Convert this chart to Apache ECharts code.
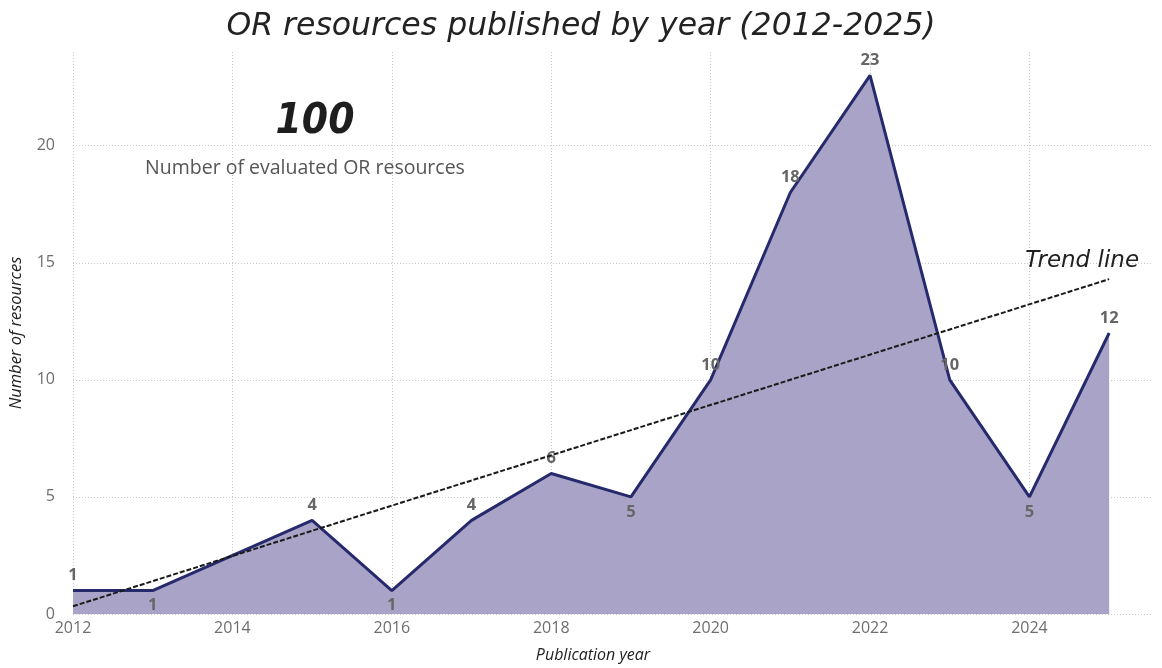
<!DOCTYPE html>
<html>
<head>
<meta charset="utf-8">
<title>OR resources published by year</title>
<script src="https://cdn.jsdelivr.net/npm/echarts@6/dist/echarts.min.js"></script>
<style>
  html, body { margin: 0; padding: 0; background: #fff; }
  #chart { width: 1162px; height: 668px; }
</style>
</head>
<body>
<div id="chart"></div>
<script>
// Publication years and the number of OR resources published in each
const years = [2012, 2013, 2015, 2016, 2017, 2018, 2019, 2020, 2021, 2022, 2023, 2024, 2025];
const counts = [1, 1, 4, 1, 4, 6, 5, 10, 18, 23, 10, 5, 12];

// Trend line end points (start year / end year)
const trendYears = [2012, 2025];
const trendValues = [0.33, 14.3];

// Headline figure
const totalResources = 100;
const totalCaption = 'Number of evaluated OR resources';

const titleText = 'OR resources published by year (2012-2025)';
const xAxisTitle = 'Publication year';
const yAxisTitle = 'Number of resources';
const trendText = 'Trend line';

// Years whose value label sits beneath the point
const labelsBelow = [2013, 2016, 2019, 2024];

const lineColor = '#262a6c';
const areaColor = '#a9a4c7';
const gridColor = '#c9c9c9';

const seriesData = years.map((y, i) => ({
  value: [y, counts[i]],
  label: { position: labelsBelow.includes(y) ? 'bottom' : 'top' }
}));

const chart = echarts.init(document.getElementById('chart'), null, { renderer: 'canvas' });

chart.setOption({
  animation: false,
  backgroundColor: '#ffffff',
  title: [
    {
      text: titleText,
      left: 'center',
      top: 6,
      textStyle: {
        fontFamily: 'DejaVu Sans',
        fontStyle: 'italic',
        fontWeight: 'normal',
        fontSize: 31.5,
        color: '#222'
      }
    },
    {
      text: String(totalResources),
      left: 310,
      top: 96,
      textAlign: 'center',
      textStyle: {
        fontFamily: 'DejaVu Sans Condensed',
        fontStyle: 'italic',
        fontWeight: 'bold',
        fontSize: 42,
        color: '#1e1e1e'
      }
    },
    {
      text: totalCaption,
      left: 300,
      top: 153,
      textAlign: 'center',
      textStyle: {
        fontFamily: 'Open Sans',
        fontWeight: 'normal',
        fontSize: 19.5,
        color: '#555'
      }
    }
  ],
  grid: { left: 68, right: 9, top: 52, bottom: 53 },
  xAxis: {
    type: 'value',
    min: 2012,
    max: 2025.55,
    interval: 2,
    name: xAxisTitle,
    nameLocation: 'middle',
    nameGap: 33,
    nameTextStyle: {
      fontFamily: 'Open Sans',
      fontStyle: 'italic',
      fontSize: 16,
      color: '#222',
      padding: [0, 40, 0, 0]
    },
    axisLine: { show: false },
    axisTick: { show: false },
    axisLabel: {
      showMaxLabel: false,
      margin: 6,
      fontFamily: 'Open Sans',
      fontSize: 16,
      color: '#6e6e6e',
      formatter: v => String(v)
    },
    splitLine: {
      show: true,
      showMaxLine: false,
      lineStyle: { color: gridColor, type: [1, 2], width: 1 }
    }
  },
  yAxis: {
    type: 'value',
    min: 0,
    max: 24,
    interval: 5,
    name: yAxisTitle,
    nameLocation: 'middle',
    nameGap: 48,
    nameRotate: 90,
    nameTextStyle: {
      fontFamily: 'Open Sans',
      fontStyle: 'italic',
      fontSize: 16.5,
      color: '#222'
    },
    axisLine: { show: false },
    axisTick: { show: false },
    axisLabel: {
      showMaxLabel: false,
      margin: 18,
      fontFamily: 'Open Sans',
      fontSize: 16,
      color: '#6e6e6e'
    },
    splitLine: {
      show: true,
      showMaxLine: false,
      lineStyle: { color: gridColor, type: [1, 2], width: 1 }
    }
  },
  series: [
    {
      name: 'Resources',
      type: 'line',
      data: seriesData,
      symbol: 'circle',
      symbolSize: 1,
      showSymbol: true,
      itemStyle: { color: 'rgba(0,0,0,0)', borderWidth: 0 },
      lineStyle: { color: lineColor, width: 3 },
      areaStyle: { color: areaColor, opacity: 1 },
      label: {
        show: true,
        distance: 6,
        fontFamily: 'Open Sans',
        fontWeight: 'bold',
        fontSize: 16.5,
        color: '#666'
      },
      z: 2
    },
    {
      name: trendText,
      type: 'line',
      data: trendYears.map((y, i) => [y, trendValues[i]]),
      symbol: 'none',
      lineStyle: { color: '#1a1a1a', width: 2, type: [5, 2] },
      endLabel: {
        show: true,
        formatter: trendText,
        offset: [-92, -18],
        fontFamily: 'DejaVu Sans',
        fontStyle: 'italic',
        fontSize: 23,
        color: '#222'
      },
      z: 3
    }
  ]
});
</script>
</body>
</html>
